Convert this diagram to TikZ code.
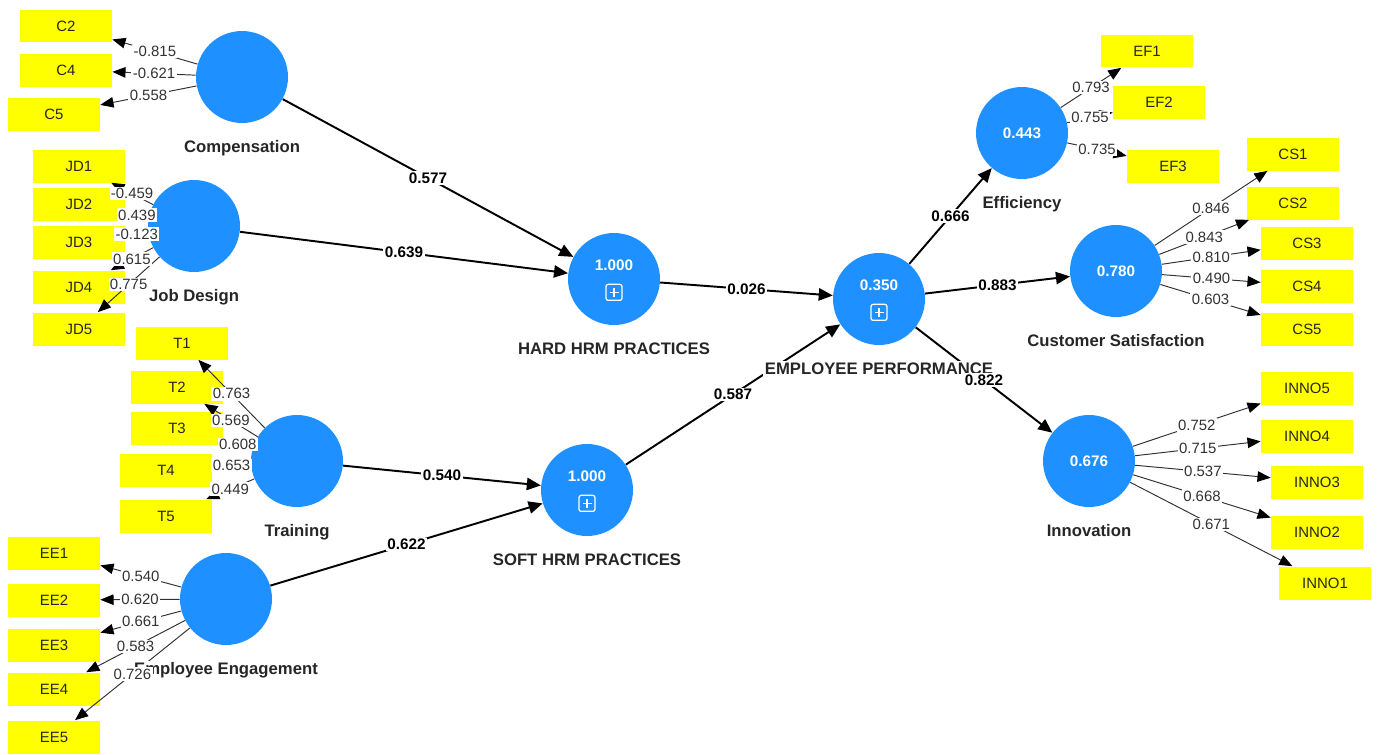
\documentclass[tikz,border=0pt]{standalone}
\usepackage{fontspec}
\setmainfont{Liberation Sans}
\usetikzlibrary{arrows.meta,positioning}
\definecolor{lvblue}{RGB}{30,144,255}
\definecolor{mvyellow}{RGB}{255,255,0}
\definecolor{loadgray}{RGB}{50,50,50}
\tikzset{plusbox/.pic={
    \draw[white, line width=0.7pt, rounded corners=1.2pt] (-8,-8) rectangle (8,8);
    \draw[white, line width=0.7pt] (-4.5,0) -- (4.5,0) (0,-4.5) -- (0,4.5);
}}

\begin{document}
\begin{tikzpicture}[x=0.02cm, y=-0.02cm, line join=round, node distance=3mm,
        latent/.style={circle, fill=lvblue, minimum size=1.84cm, inner sep=0pt,
            text=white, font=\fontsize{8.7}{10}\selectfont\bfseries},
        rsq/.style={text=white, inner sep=0pt, font=\fontsize{8.7}{10}\selectfont\bfseries},
        ind/.style={rectangle, fill=mvyellow, minimum width=1.84cm, minimum height=0.66cm,
            inner sep=0pt, text=black!85, font=\fontsize{8.5}{10}\selectfont},
        cname/.style={fill=white, inner sep=1pt, text height=7pt, text depth=2pt,
            text=black!85, font=\fontsize{9.5}{11}\selectfont\bfseries},
        struct/.style={-{Triangle[length=8pt,width=7pt]}, line width=1.1pt, black},
        loadarr/.style={-{Triangle[length=7.5pt,width=6pt,fill=black,color=black]},
            line width=0.55pt, loadgray},
        pval/.style={fill=white, inner sep=0.8pt, font=\fontsize{8.7}{10}\selectfont\bfseries},
        lval/.style={fill=white, inner sep=0.8pt, text=loadgray, font=\fontsize{8.5}{10}\selectfont}]
    \useasboundingbox (0,0) rectangle (1378,754);
    % latent variables
    \node[latent] (comp)  at (242,77)  {};
    \node[latent] (jd)    at (194,226) {};
    \node[latent] (train) at (297,461) {};
    \node[latent] (eng)   at (226,599) {};
    \node[latent] (hard)  at (614,279) {};
    \node[latent] (soft)  at (587,490) {};
    \node[latent] (perf)  at (879,299) {};
    \node[latent] (eff)   at (1022,133) {0.443};
    \node[latent] (cs)    at (1116,271) {0.780};
    \node[latent] (inno)  at (1089,461) {0.676};
    \foreach \lv/\r in {hard/1.000, soft/1.000, perf/0.350} {
        \node[rsq] (\lv rsq) at ([yshift=7.6pt]\lv.center) {\r};
        \pic (\lv icon) at ([yshift=-7.6pt]\lv.center) {plusbox};
    }
    % indicators
    \foreach \i/\t/\x/\y in {c2/C2/66/26, c4/C4/66/70, c5/C5/54/114,
            jd1/JD1/79/166, jd2/JD2/79/204, jd3/JD3/79/242, jd4/JD4/79/287, jd5/JD5/79/329,
            t1/T1/182/343, t2/T2/177/387, t3/T3/177/428, t4/T4/166/470, t5/T5/166/516,
            ee1/EE1/54/553, ee2/EE2/54/600, ee3/EE3/54/645, ee4/EE4/54/689, ee5/EE5/54/737,
            ef1/EF1/1147/51, ef2/EF2/1159/102, ef3/EF3/1173/166,
            cs1/CS1/1293/154, cs2/CS2/1293/203, cs3/CS3/1307/243, cs4/CS4/1307/286, cs5/CS5/1307/329,
            inno5/INNO5/1307/388, inno4/INNO4/1307/436, inno3/INNO3/1317/482,
            inno2/INNO2/1317/532, inno1/INNO1/1325/583}
        \node[ind] (\i) at (\x,\y) {\t};
    \def\inner{comp/hard/0.577, jd/hard/0.639, train/soft/0.540, eng/soft/0.622,
        hard/perf/0.026, soft/perf/0.587, perf/eff/0.666, perf/cs/0.883, perf/inno/0.822}
    \def\outer{comp/c2/-0.815, comp/c4/-0.621, comp/c5/0.558,
        jd/jd1/-0.459, jd/jd2/0.439, jd/jd3/-0.123, jd/jd4/0.615, jd/jd5/0.775,
        train/t1/0.763, train/t2/0.569, train/t3/0.608, train/t4/0.653, train/t5/0.449,
        eng/ee1/0.540, eng/ee2/0.620, eng/ee3/0.661, eng/ee4/0.583, eng/ee5/0.726,
        eff/ef1/0.793, eff/ef2/0.755, eff/ef3/0.735,
        cs/cs1/0.846, cs/cs2/0.843, cs/cs3/0.810, cs/cs4/0.490, cs/cs5/0.603,
        inno/inno5/0.752, inno/inno4/0.715, inno/inno3/0.537, inno/inno2/0.668, inno/inno1/0.671}
    % arrows
    \foreach \a/\b/\v in \inner { \draw[struct] (\a) -- (\b); }
    \foreach \a/\b/\v in \outer { \draw[loadarr] (\a) -- (\b); }
    % construct names
    \node[cname, below=of comp]  (compname)  {Compensation};
    \node[cname, below=of jd]    (jdname)    {Job Design};
    \node[cname, below=of train] (trainname) {Training};
    \node[cname, below=of eng]   (engname)   {Employee Engagement};
    \node[cname, below=of hard]  (hardname)  {HARD HRM PRACTICES};
    \node[cname, below=of soft]  (softname)  {SOFT HRM PRACTICES};
    \node[cname, below=of perf]  (perfname)  {EMPLOYEE PERFORMANCE};
    \node[cname, below=of eff]   (effname)   {Efficiency};
    \node[cname, below=of cs]    (csname)    {Customer Satisfaction};
    \node[cname, below=of inno]  (innoname)  {Innovation};
    % coefficients and loadings
    \foreach \a/\b/\v in \inner { \path (\a) -- node[pval] {\v} (\b); }
    \foreach \a/\b/\v in \outer { \path (\a) -- node[lval] {\v} (\b); }
\end{tikzpicture}
\end{document}
